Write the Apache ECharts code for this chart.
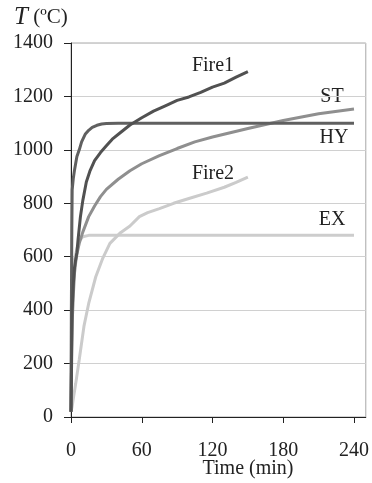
<!DOCTYPE html>
<html>
<head>
<meta charset="utf-8">
<script src="https://cdn.jsdelivr.net/npm/echarts@6/dist/echarts.min.js"></script>
<style>
  html, body { margin: 0; padding: 0; background: #fff; }
  #chart { width: 372px; height: 483px; }
</style>
</head>
<body>
<div id="chart"></div>
<script>
// Gas temperature (°C) against time (min) for five fire curves
const xTicks = [0, 60, 120, 180, 240];
const yTicks = [0, 200, 400, 600, 800, 1000, 1200, 1400];

const hyPoints = [[0, 20], [0.3, 400], [0.7, 700], [1, 850], [2, 895], [3, 925], [4, 950], [5, 975], [7, 1000], [9, 1030], [12, 1058], [15, 1073], [18, 1084], [22, 1092], [26, 1097], [30, 1099], [40, 1100], [240, 1100]];
const fire1Points = [[0, 20], [0.5, 200], [1, 400], [2, 500], [3, 560], [4, 590], [5, 615], [6, 665], [8, 750], [10, 810], [13, 880], [16, 920], [20, 960], [25, 990], [30, 1015], [35, 1040], [42, 1065], [50, 1093], [60, 1120], [70, 1145], [80, 1165], [90, 1185], [100, 1198], [110, 1215], [120, 1235], [130, 1250], [140, 1272], [150, 1293]];
const stPoints = [[0, 20], [0.5, 250], [1, 350], [2, 460], [3, 540], [4, 580], [5, 610], [7, 650], [10, 692], [15, 750], [20, 790], [25, 825], [30, 852], [40, 890], [50, 922], [60, 948], [75, 978], [90, 1005], [105, 1030], [120, 1048], [150, 1080], [180, 1110], [210, 1135], [240, 1153]];
const fire2Points = [[0, 20], [1, 40], [2, 70], [4, 125], [7, 215], [11, 340], [15, 425], [21, 525], [27, 595], [33, 650], [42, 690], [50, 715], [58, 750], [65, 765], [75, 780], [87, 800], [100, 818], [115, 838], [130, 860], [140, 878], [150, 898]];
const exPoints = [[0, 20], [0.3, 200], [0.7, 400], [1, 480], [2, 560], [3, 590], [4, 610], [5, 630], [7, 660], [10, 675], [15, 680], [240, 680]];

const seriesNames = ['Fire1', 'ST', 'HY', 'Fire2', 'EX'];

const serif = 'Liberation Serif, Times New Roman, serif';
const txt = '#222';

function line(name, data, color, z) {
  return {
    name, type: 'line', data, z,
    showSymbol: false, symbol: 'none', smooth: false,
    lineStyle: { color, width: 3 },
    emphasis: { disabled: true }
  };
}

function label(text, x, y) {
  return {
    type: 'text', x, y,
    style: { text, fontFamily: serif, fontSize: 20, fill: txt, textAlign: 'center', textVerticalAlign: 'middle' }
  };
}

const chart = echarts.init(document.getElementById('chart'), null, { renderer: 'canvas' });
chart.setOption({
  animation: false,
  backgroundColor: '#fff',
  grid: {
    left: 71, top: 43, right: 4, bottom: 66,
    show: true, borderColor: '#a8a8a8', borderWidth: 1
  },
  xAxis: {
    type: 'value', min: 0, max: 250, interval: 60,
    axisLine: { lineStyle: { color: '#222', width: 1 } },
    axisTick: { show: true, length: 6, lineStyle: { color: '#222' } },
    axisLabel: {
      showMaxLabel: false, margin: 24, fontFamily: serif, fontSize: 20, color: txt,
      formatter: v => xTicks.includes(v) ? String(v) : ''
    },
    splitLine: { show: false }
  },
  yAxis: {
    type: 'value', min: 0, max: 1400, interval: 200,
    axisLine: { show: true, lineStyle: { color: '#222', width: 1 } },
    axisTick: { show: true, length: 7, lineStyle: { color: '#222' } },
    axisLabel: {
      margin: 18, fontFamily: serif, fontSize: 20, color: txt,
      formatter: v => yTicks.includes(v) ? String(v) : ''
    },
    splitLine: { show: true, lineStyle: { color: '#d0d0d0', width: 1 } }
  },
  series: [
    line(seriesNames[4], exPoints, '#cdcdcd', 2),
    line(seriesNames[3], fire2Points, '#cbcbcb', 3),
    line(seriesNames[1], stPoints, '#8f8f8f', 4),
    line(seriesNames[2], hyPoints, '#606060', 5),
    line(seriesNames[0], fire1Points, '#515151', 6)
  ],
  graphic: [
    {
      type: 'text', x: 14, y: 17,
      style: {
        text: '{i|T} (ºC)',
        fontFamily: serif, fontSize: 21, fill: txt, textVerticalAlign: 'middle',
        rich: { i: { fontFamily: serif, fontStyle: 'italic', fontSize: 25, fill: txt } }
      }
    },
    label(seriesNames[0], 213, 66),
    label(seriesNames[1], 332, 97),
    label(seriesNames[2], 334, 138),
    label(seriesNames[3], 213, 174),
    label(seriesNames[4], 332, 220),
    label('Time (min)', 248, 469)
  ]
});
</script>
</body>
</html>
